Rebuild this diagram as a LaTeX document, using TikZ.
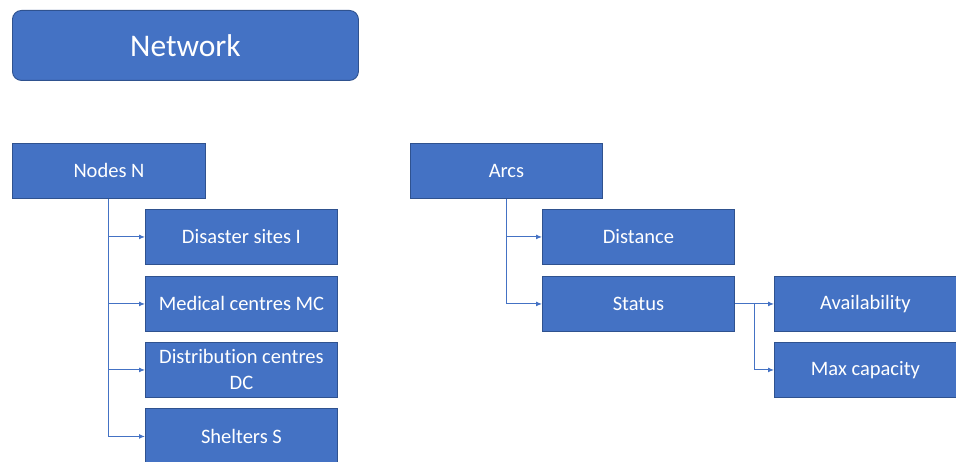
\documentclass[tikz,border=0pt]{standalone}
\usepackage{fontspec}
\setmainfont{Carlito}[Ligatures=NoCommon]
\usetikzlibrary{arrows.meta}
\definecolor{boxfill}{HTML}{4472C4}
\definecolor{boxedge}{HTML}{2F528F}
\definecolor{linkc}{HTML}{4472C4}
\tikzset{
  box/.style={draw=boxedge, line width=0.9pt, fill=boxfill, text=white, minimum width=192pt, minimum height=55pt, inner sep=2pt, align=center, font=\fontsize{20.5}{26}\selectfont, anchor=north west},
  topbox/.style={draw=boxedge, line width=0.9pt, fill=boxfill, text=white, rounded corners=9pt, minimum width=346pt, minimum height=70pt, font=\fontsize{31.5}{36}\selectfont, anchor=north west},
  link/.style={draw=linkc, line width=1pt, -{Latex[length=6pt,width=5pt]}},
  plain/.style={draw=linkc, line width=1pt}
}
\begin{document}
\begin{tikzpicture}[x=1pt,y=-1pt]
\useasboundingbox (0,0) rectangle (956,462);
\node[topbox] (net) at (12,10) {Network};
\node[box, minimum width=193pt] (nodes) at (12,143) {Nodes N};
\node[box] (dis) at (145,209) {Disaster sites I};
\node[box] (med) at (145,276) {Medical centres MC};
\node[box] (dc) at (145,342) {Distribution centres\\DC};
\node[box, minimum height=56pt] (shel) at (145,408) {Shelters S};
\node[box] (arcs) at (410,143) {Arcs};
\node[box] (dist) at (542,209) {Distance};
\node[box] (stat) at (542,276) {Status};
\node[box, minimum width=182pt] (avail) at (774,276) {Availability};
\node[box, minimum width=182pt] (maxc) at (774,342) {Max capacity};
% Nodes branches
\coordinate (nb) at (108,198);
\draw[plain] (nodes.south -| nb) -- (nb |- shel.west);
\foreach \t in {dis,med,dc,shel}{
  \draw[link] (nb |- \t.west) -- (\t.west);
}
% Arcs branches
\coordinate (ab) at (506,198);
\draw[plain] (arcs.south -| ab) -- (ab |- stat.west);
\foreach \t in {dist,stat}{
  \draw[link] (ab |- \t.west) -- (\t.west);
}
% Status branches
\coordinate (sb) at (754,303);
\draw[plain] (stat.east) -- (sb |- stat.east) -- (sb |- maxc.west);
\draw[link] (sb |- avail.west) -- (avail.west);
\draw[link] (sb |- maxc.west) -- (maxc.west);
\end{tikzpicture}
\end{document}
